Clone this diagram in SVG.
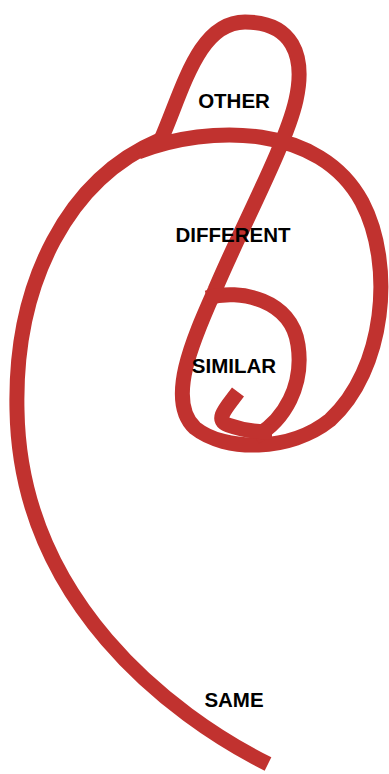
<svg xmlns="http://www.w3.org/2000/svg" width="389" height="774" viewBox="0 0 389 774">
<style>
.c{fill:none;stroke:#C1322F;stroke-width:15;stroke-linecap:butt;stroke-linejoin:round}
.t{font-family:"Liberation Sans",Arial,sans-serif;font-weight:bold;font-size:20.5px;fill:#000;text-anchor:middle}
</style>
<rect width="389" height="774" fill="#fff"/>
<g id="connectors">
<path class="c" d="M268,764 C170,715 20,600 17,410 C14,280 70,178 160,140"/>
<path class="c" d="M160,142 C183,90 198,22 245,22 C292,22 306,55 296,100 C286,145 240,230 215,290 C195,335 165,400 195,428 C225,452 290,452 330,420 C385,370 395,265 362,202 C320,124 210,124 138,152"/>
<path class="c" d="M207,298 C240,288 292,300 298,345 C304,385 285,420 255,437"/>
<path class="c" d="M238,392 C226,408 214,420 228,425 C242,430 258,432 272,432"/>
</g>
<g id="other"><text class="t" x="234" y="108">OTHER</text></g>
<g id="different"><text class="t" x="233" y="242">DIFFERENT</text></g>
<g id="similar"><text class="t" x="234" y="373">SIMILAR</text></g>
<g id="same"><text class="t" x="234" y="707">SAME</text></g>
</svg>
